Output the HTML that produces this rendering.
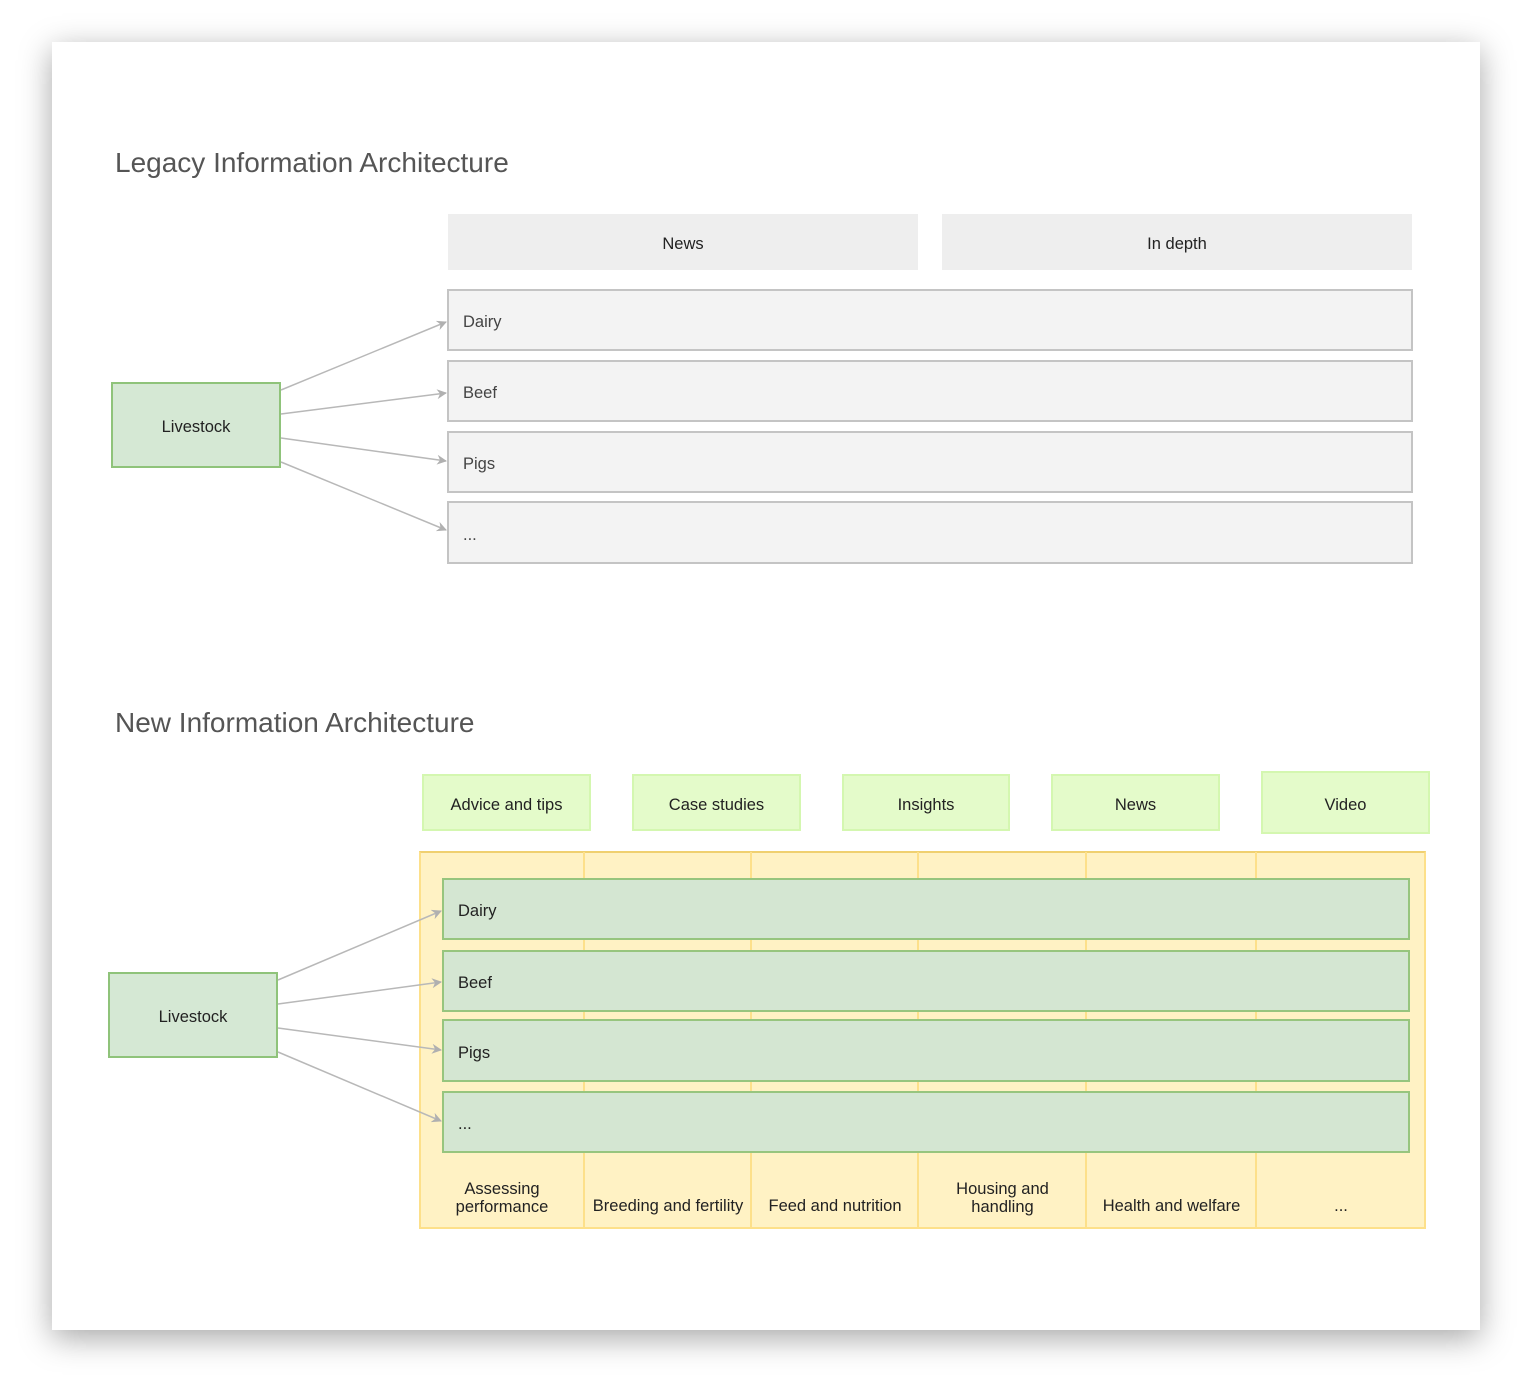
<!DOCTYPE html>
<html><head><style>
body{margin:0;width:1532px;height:1392px;background:#fff;position:relative;overflow:hidden;font-family:"Liberation Sans",Arial,sans-serif}
.card{position:absolute;left:52px;top:42px;width:1428px;height:1288px;background:#fff;box-shadow:0 8px 30px rgba(0,0,0,0.35)}
.b{position:absolute;box-sizing:border-box;display:flex;align-items:center;font-size:16.5px;color:#222;padding-top:5px}
.c{justify-content:center;text-align:center}
.l{padding-left:14px}
.t{position:absolute;font-size:28px;color:#555;left:115px}
.g{background:#e4fbca;border:2px solid #d4f7b0}
.r{background:#f3f3f3;border:2px solid #c4c4c4;color:#444}
.gr{background:#d4e6d2;border:2px solid #97c57e}
.lv{background:#d5e8d4;border:2px solid #8fc37a}
.col{position:absolute;top:852px;height:377px;border-left:2px solid #fde08a}
</style></head><body>
<div class="card"></div>
<div class="t" style="top:147px">Legacy Information Architecture</div>
<div class="t" style="top:707px">New Information Architecture</div>

<div class="b c" style="left:448px;top:214px;width:470px;height:56px;background:#eee">News</div>
<div class="b c" style="left:942px;top:214px;width:470px;height:56px;background:#eee">In depth</div>
<div class="b l r" style="left:447px;top:289px;width:966px;height:62px">Dairy</div>
<div class="b l r" style="left:447px;top:360px;width:966px;height:62px">Beef</div>
<div class="b l r" style="left:447px;top:431px;width:966px;height:62px">Pigs</div>
<div class="b l r" style="left:447px;top:501px;width:966px;height:63px">...</div>
<div class="b c lv" style="left:111px;top:382px;width:170px;height:86px">Livestock</div>

<div class="b c g" style="left:422px;top:774px;width:169px;height:57px">Advice and tips</div>
<div class="b c g" style="left:632px;top:774px;width:169px;height:57px">Case studies</div>
<div class="b c g" style="left:842px;top:774px;width:168px;height:57px">Insights</div>
<div class="b c g" style="left:1051px;top:774px;width:169px;height:57px">News</div>
<div class="b c g" style="left:1261px;top:771px;width:169px;height:63px">Video</div>

<div style="position:absolute;left:419px;top:851px;width:1007px;height:378px;box-sizing:border-box;background:#fff2c4;border:2px solid #fde08a;border-top-color:#f0d070"></div>
<div class="col" style="left:583px"></div>
<div class="col" style="left:750px"></div>
<div class="col" style="left:917px"></div>
<div class="col" style="left:1085px"></div>
<div class="col" style="left:1255px"></div>
<div class="b c" style="left:421px;top:1170px;width:162px;height:50px;line-height:18px">Assessing<br>performance</div>
<div class="b c" style="left:585px;top:1170px;width:166px;height:68px">Breeding and fertility</div>
<div class="b c" style="left:752px;top:1170px;width:166px;height:68px">Feed and nutrition</div>
<div class="b c" style="left:919px;top:1170px;width:167px;height:50px;line-height:18px">Housing and<br>handling</div>
<div class="b c" style="left:1087px;top:1170px;width:169px;height:68px">Health and welfare</div>
<div class="b c" style="left:1257px;top:1170px;width:168px;height:68px">...</div>

<div class="b l gr" style="left:442px;top:878px;width:968px;height:62px">Dairy</div>
<div class="b l gr" style="left:442px;top:950px;width:968px;height:62px">Beef</div>
<div class="b l gr" style="left:442px;top:1019px;width:968px;height:63px">Pigs</div>
<div class="b l gr" style="left:442px;top:1091px;width:968px;height:62px">...</div>
<div class="b c lv" style="left:108px;top:972px;width:170px;height:86px">Livestock</div>

<svg style="position:absolute;left:0;top:0" width="1532" height="1392">
<defs><marker id="a" markerWidth="10" markerHeight="10" refX="9" refY="5" orient="auto" markerUnits="userSpaceOnUse"><path d="M0,0 L10,5 L0,10 L3,5 z" fill="#b0b0b0"/></marker></defs>
<g stroke="#b8b8b8" stroke-width="1.5" fill="none" marker-end="url(#a)">
<line x1="281" y1="390" x2="446" y2="322"/>
<line x1="281" y1="414" x2="446" y2="393"/>
<line x1="281" y1="438" x2="446" y2="461"/>
<line x1="281" y1="462" x2="446" y2="530"/>
<line x1="278" y1="980" x2="441" y2="911"/>
<line x1="278" y1="1004" x2="441" y2="982"/>
<line x1="278" y1="1028" x2="441" y2="1050"/>
<line x1="278" y1="1052" x2="441" y2="1121"/>
</g></svg>
</body></html>
